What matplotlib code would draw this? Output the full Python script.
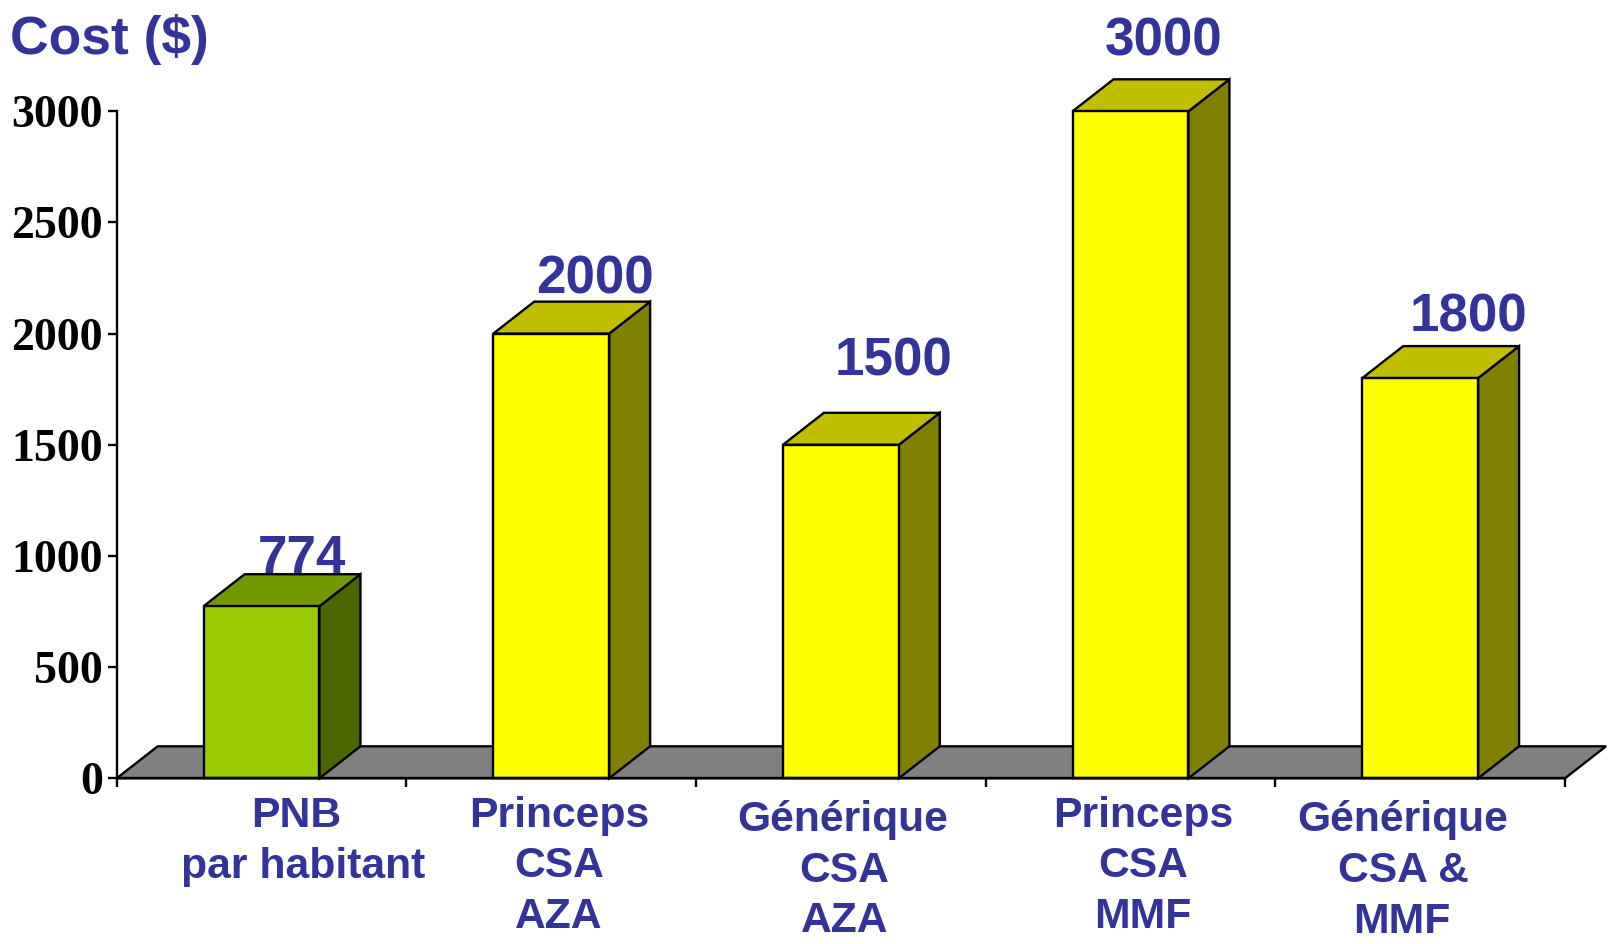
import numpy as np
import matplotlib
matplotlib.use('Agg')
import matplotlib.pyplot as plt
from matplotlib.patches import Polygon

W, H = 1614, 944

# data
values = [774, 2000, 1500, 3000, 1800]
value_labels = ['774', '2000', '1500', '3000', '1800']
yticks = [0, 500, 1000, 1500, 2000, 2500, 3000]
front_colors = ['#99cc00', '#ffff00', '#ffff00', '#ffff00', '#ffff00']
top_colors = ['#729900', '#bfbf00', '#bfbf00', '#bfbf00', '#bfbf00']
side_colors = ['#4c6600', '#808000', '#808000', '#808000', '#808000']
cat_labels = [
    ['PNB', 'par habitant'],
    ['Princeps', 'CSA', 'AZA'],
    ['Générique', 'CSA', 'AZA'],
    ['Princeps', 'CSA', 'MMF'],
    ['Générique', 'CSA &', 'MMF'],
]

# text positions in pixels of the image
label_x = [[296, 303], [559, 559, 559], [843, 844, 845], [1143, 1143, 1143], [1403, 1403, 1402]]
label_y = [[827, 878], [827, 877, 928], [831, 882, 932], [827, 877, 928], [831, 882, 933]]
value_x = [302, 595, 894, 1164, 1468]
value_y = [573, 294, 375, 55, 331]

blue = '#333399'
sans = 'Liberation Sans'
serif = 'Liberation Serif'

fig = plt.figure(figsize=(W / 100, H / 100), dpi=100)
ax = fig.add_axes([116.7 / W, 1 - 778.3 / H, (1565 - 116.7) / W, (778.3 - 111.3) / H])
ax.set_xlim(0, 5)
ax.set_ylim(0, 3000)
ax.patch.set_visible(False)

# depth of the fake 3d, in data units
dx = 41 / 289.7
dy = 32 / 667 * 3000
bar_w = 0.4
lw = 1.7

# floor
ax.add_patch(Polygon([(0, 0), (5, 0), (5 + dx, dy), (dx, dy)], closed=True,
                     facecolor='#808080', edgecolor='black', linewidth=lw,
                     clip_on=False, zorder=2))

for i, v in enumerate(values):
    c = i + 0.5
    l, r = c - bar_w / 2, c + bar_w / 2
    ax.add_patch(Polygon([(r, 0), (r + dx, dy), (r + dx, v + dy), (r, v)], closed=True,
                         facecolor=side_colors[i], edgecolor='black', linewidth=lw,
                         clip_on=False, zorder=3))
    ax.add_patch(Polygon([(l, v), (r, v), (r + dx, v + dy), (l + dx, v + dy)], closed=True,
                         facecolor=top_colors[i], edgecolor='black', linewidth=lw,
                         clip_on=False, zorder=3))
    ax.bar(c, v, width=bar_w, color=front_colors[i], edgecolor='black', linewidth=lw,
           clip_on=False, zorder=4)
    ax.text(value_x[i] / W, 1 - value_y[i] / H, value_labels[i], transform=fig.transFigure,
            family=sans, weight='bold', fontsize=38.2, color=blue, ha='center', va='baseline',
            zorder=1)
    for j, line in enumerate(cat_labels[i]):
        fig.text(label_x[i][j] / W, 1 - label_y[i][j] / H, line, family=sans, weight='bold',
                 fontsize=30.7, color=blue, ha='center', va='baseline')

fig.text(10 / W, 1 - 54 / H, 'Cost ($)', family=sans, weight='bold', fontsize=38.4,
         color=blue, ha='left', va='baseline')

ax.spines['top'].set_visible(False)
ax.spines['right'].set_visible(False)
ax.spines['left'].set_linewidth(lw)
ax.spines['bottom'].set_linewidth(lw)
ax.spines['bottom'].set_zorder(5)

ax.set_xticks(np.arange(0, 6))
ax.set_xticklabels([])
ax.set_yticks(yticks)
ax.set_yticklabels([str(t) for t in yticks], family=serif, weight='bold', fontsize=33)
ax.tick_params(axis='both', direction='out', length=6.5, width=lw, color='black')
ax.tick_params(axis='y', pad=3.5)

fig.savefig('out.png', dpi=100, facecolor='white')
